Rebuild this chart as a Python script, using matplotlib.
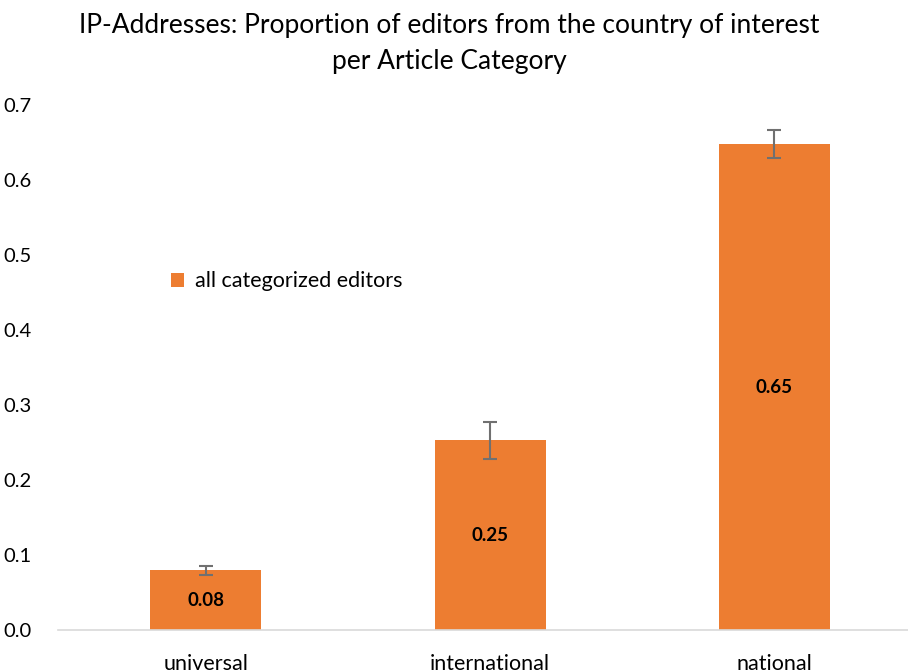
import numpy as np
import matplotlib
matplotlib.use('Agg')
from matplotlib import pyplot as plt

categories = ['universal', 'international', 'national']
values = [0.08, 0.253, 0.648]
errors = [0.006, 0.025, 0.019]
labels = ['0.08', '0.25', '0.65']
series_name = 'all categorized editors'

plt.rcParams['font.family'] = ['Lato', 'DejaVu Sans']

fig = plt.figure(figsize=(9.08, 6.72), dpi=100)
ax = fig.add_axes([0.064, 0.0625, 0.936, 0.781])

x = np.arange(len(categories))
bars = ax.bar(x, values, width=0.39, color='#ED7D31', label=series_name,
              yerr=errors, error_kw=dict(ecolor='#707070', elinewidth=1.5, capsize=5, capthick=1.5))

# value labels in the middle of each bar
for xi, v, lab in zip(x, values, labels):
    ax.text(xi, v / 2, lab, ha='center', va='center', fontsize=13.5, fontweight='bold', color='black')

ax.set_ylim(0, 0.7)
ax.set_xlim(-0.52, 2.47)
ax.set_yticks(np.arange(0, 0.71, 0.1))
ax.set_yticklabels(['%.1f' % t for t in np.arange(0, 0.71, 0.1)])
ax.set_xticks(x)
ax.set_xticklabels(categories)
ax.tick_params(axis='x', length=0, labelsize=15.5, colors='black', pad=17)
ax.tick_params(axis='y', length=0, labelsize=14.5, colors='black', pad=19)
for s in ['top', 'right', 'left']:
    ax.spines[s].set_visible(False)
ax.spines['bottom'].set_color('#D9D9D9')
ax.spines['bottom'].set_linewidth(1.2)

ax.legend(loc='upper left', bbox_to_anchor=(0.11, 0.72), frameon=False, fontsize=15.5,
          handlelength=0.6, handleheight=0.6, handletextpad=0.5)

fig.text(0.495, 0.981, 'IP-Addresses: Proportion of editors from the country of interest\nper Article Category',
         ha='center', va='top', fontsize=19, linespacing=1.55)

fig.savefig('out.png', dpi=100)
